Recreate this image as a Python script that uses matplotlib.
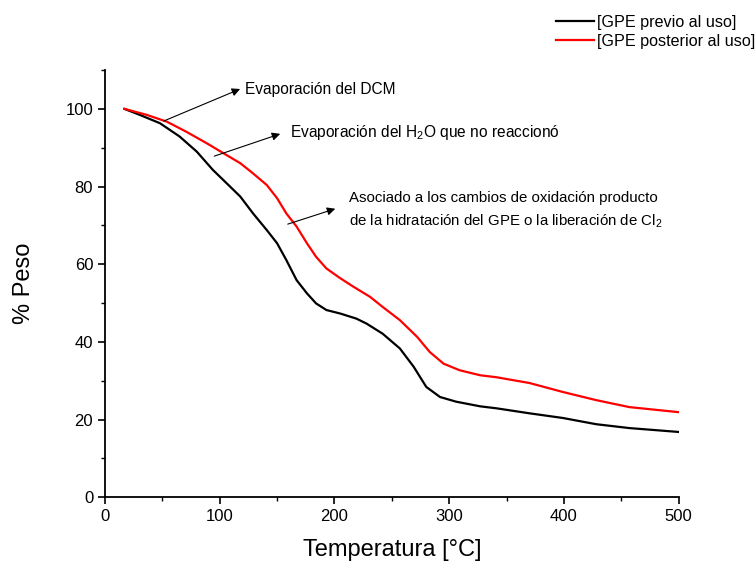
import matplotlib
matplotlib.use('Agg')
import matplotlib.pyplot as plt
from matplotlib.ticker import MultipleLocator

plt.rcParams['font.family'] = ['Liberation Sans', 'DejaVu Sans']
plt.rcParams['mathtext.fontset'] = 'custom'
plt.rcParams['mathtext.rm'] = 'Liberation Sans'
plt.rcParams['mathtext.it'] = 'Liberation Sans:italic'

# curva antes del uso
temp_previo = [17, 30, 48, 65, 80, 94, 109, 118, 129, 141, 150, 158, 167, 176, 184, 193, 205,
               219, 228, 242, 257, 269, 280, 292, 306, 327, 341, 370, 399, 428, 457, 500]
peso_previo = [100, 98.5, 96.3, 92.9, 89.0, 84.3, 80.0, 77.4, 73.1, 68.8, 65.4, 61.1, 55.9, 52.5, 49.9, 48.2, 47.3,
               46.0, 44.7, 42.1, 38.3, 33.6, 28.4, 25.8, 24.6, 23.4, 22.9, 21.6, 20.4, 18.8, 17.8, 16.8]

# curva despues del uso
temp_post = [17, 36, 54, 71, 89, 106, 118, 129, 141, 150, 158, 167, 176, 184, 193, 205, 216,
             231, 242, 257, 272, 283, 295, 309, 327, 341, 370, 399, 428, 457, 500]
peso_post = [100, 98.5, 96.7, 94.1, 91.1, 88.1, 86.0, 83.4, 80.4, 77.0, 73.1, 69.7, 65.4, 61.9, 58.9, 56.4, 54.3,
             51.6, 49.0, 45.6, 41.3, 37.4, 34.4, 32.7, 31.4, 30.9, 29.4, 27.1, 25.0, 23.2, 21.9]

fig = plt.figure(figsize=(7.55, 5.65), dpi=100)
ax = fig.add_axes([0.139, 0.120, 0.760, 0.756])

l1, = ax.plot(temp_previo, peso_previo, color='black', linewidth=1.6, solid_joinstyle='round')
l2, = ax.plot(temp_post, peso_post, color='red', linewidth=1.6, solid_joinstyle='round')

ax.set_xlim(0, 500)
ax.set_ylim(0, 110)
ax.xaxis.set_major_locator(MultipleLocator(100))
ax.xaxis.set_minor_locator(MultipleLocator(50))
ax.yaxis.set_major_locator(MultipleLocator(20))
ax.yaxis.set_minor_locator(MultipleLocator(10))
ax.tick_params(which='major', direction='out', length=5, width=1.2, labelsize=12)
ax.tick_params(which='minor', direction='out', length=3, width=1.0)
for s in ['top', 'right']:
    ax.spines[s].set_visible(False)
for s in ['left', 'bottom']:
    ax.spines[s].set_linewidth(1.3)

ax.set_xlabel('Temperatura [°C]', fontsize=17, labelpad=11)
ax.set_ylabel('% Peso', fontsize=17, labelpad=22)

arrow = dict(arrowstyle='-|>', color='black', lw=0.8, mutation_scale=12)
ax.annotate('', xy=(120, 105.4), xytext=(49, 96.6), arrowprops=arrow, annotation_clip=False)
ax.text(122, 104.9, 'Evaporación del DCM', fontsize=11.2, va='center', ha='left')

ax.annotate('', xy=(155, 93.8), xytext=(93, 87.6), arrowprops=arrow)
ax.text(161, 93.8, 'Evaporación del H$_2$O que no reaccionó', fontsize=11.2, va='center', ha='left')

ax.annotate('', xy=(203, 74.5), xytext=(157, 70.1), arrowprops=arrow)
ax.text(213, 73.8, 'Asociado a los cambios de oxidación producto\nde la hidratación del GPE o la liberación de Cl$_2$',
        fontsize=10.8, va='center', ha='left', linespacing=1.55)

fig.legend([l1, l2], ['[GPE previo al uso]', '[GPE posterior al uso]'],
           loc='upper left', bbox_to_anchor=(0.717, 1.0), frameon=False,
           fontsize=11.6, handlelength=2.36, handletextpad=0.2, labelspacing=0.25)

fig.savefig('out.png', dpi=100)
